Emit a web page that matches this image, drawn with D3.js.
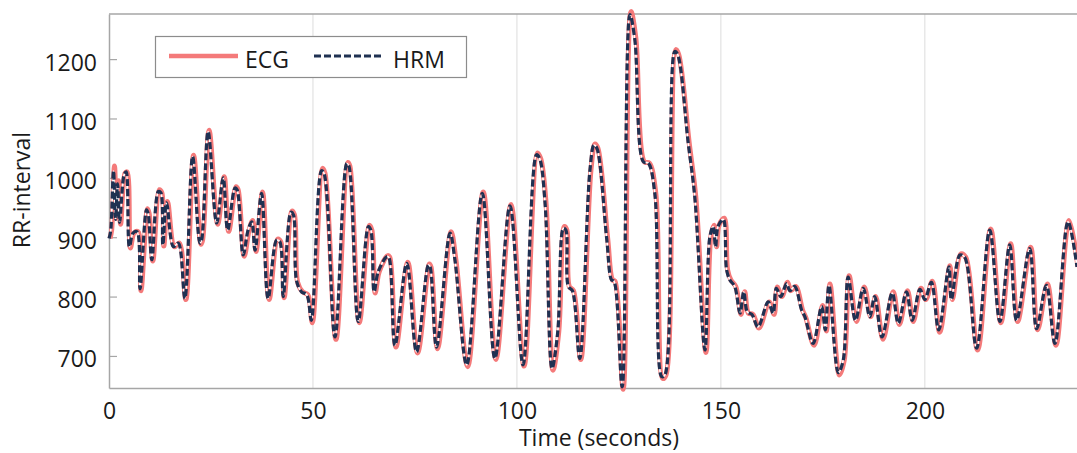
<!DOCTYPE html>
<html>
<head>
<meta charset="utf-8">
<script src="https://cdn.jsdelivr.net/npm/d3@7"></script>
<style>
  body { margin: 0; background: #fff; }
  svg { display: block; font-family: "Open Sans", sans-serif; }
</style>
</head>
<body>
<svg width="1077" height="453"></svg>
<script>
// RR-interval samples (seconds, ms) at peaks / troughs
const times = [
  0, 0.4, 1.1, 1.6, 2.1, 2.6, 3.7, 4.2, 5.0, 5.9, 6.9, 7.6, 9.2, 9.6, 10.5, 12.1, 12.7, 13.2, 14.1, 15.8,
  17.0, 18.6, 20.5, 22.3, 22.7, 24.3, 26.4, 28.0, 29.1, 30.9, 31.4, 32.9, 34.1, 35.0, 35.8, 37.4, 39.0, 41.1, 41.9, 42.7,
  44.6, 45.2, 46.0, 47.2, 48.5, 49.6, 52.1, 52.7, 55.4, 58.3, 58.8, 61.1, 63.6, 64.2, 65.0, 66.0, 68.1, 68.6, 70.1, 73.0,
  75.4, 78.3, 78.7, 80.3, 83.6, 84.8, 87.7, 91.5, 94.6, 98.3, 101.5, 104.8, 105.6, 106.9, 108.6, 110.0, 111.4, 112.0, 112.6, 113.6,
  115.4, 117.9, 118.9, 119.6, 122.0, 123.2, 123.8, 125.8, 127.7, 128.9, 131.0, 132.2, 133.8, 135.5, 136.3, 138.7, 139.4, 142.0, 143.6, 146.1,
  147.3, 148.1, 148.7, 149.3, 150.6, 151.4, 152.2, 153.4, 154.7, 155.6, 156.5, 157.6, 159.1, 161.6, 162.8, 163.6, 164.7, 166.1, 166.9, 168.1,
  169.8, 170.6, 172.6, 174.7, 175.6, 176.5, 178.8, 180.0, 181.2, 183.0, 184.9, 186.5, 187.7, 189.5, 192.0, 193.5, 195.5, 196.9, 198.8, 200.0,
  201.6, 203.4, 205.9, 206.5, 208.6, 209.8, 212.7, 215.9, 218.4, 220.8, 222.5, 225.7, 227.4, 229.8, 231.9, 235.1, 237.3
];
const hrm = [
  898, 910, 1012, 930, 990, 925, 1005, 1010, 884, 907, 909, 813, 946, 940, 862, 977, 975, 887, 958, 884,
  890, 797, 1036, 890, 895, 1078, 924, 1000, 912, 983, 980, 870, 912, 926, 878, 974, 797, 895, 892, 800,
  942, 938, 826, 808, 803, 760, 1012, 1008, 732, 1024, 1020, 758, 918, 912, 808, 842, 867, 866, 718, 856,
  707, 853, 850, 715, 907, 862, 685, 974, 696, 953, 685, 1039, 1032, 957, 679, 740, 915, 912, 817, 810,
  696, 1013, 1055, 1050, 898, 828, 826, 648, 1275, 1233, 1027, 1025, 974, 665, 668, 1213, 1208, 1058, 968, 710,
  901, 918, 884, 918, 930, 845, 828, 817, 772, 808, 774, 770, 749, 791, 772, 814, 800, 822, 810, 817,
  777, 766, 721, 783, 744, 819, 672, 693, 833, 760, 814, 766, 800, 732, 806, 755, 808, 760, 812, 795,
  824, 744, 850, 795, 870, 866, 713, 912, 758, 887, 760, 881, 746, 819, 721, 926, 850
];
const ecg = [
  898, 912, 1020, 932, 995, 922, 1008, 1010, 882, 907, 909, 810, 948, 940, 860, 980, 975, 885, 960, 884,
  890, 795, 1038, 888, 895, 1080, 922, 1002, 910, 985, 980, 868, 912, 928, 876, 976, 795, 897, 892, 798,
  944, 938, 824, 808, 803, 756, 1016, 1008, 728, 1026, 1020, 756, 920, 912, 806, 842, 869, 866, 715, 858,
  705, 855, 850, 712, 909, 862, 682, 976, 694, 955, 683, 1042, 1032, 957, 676, 740, 918, 912, 817, 810,
  694, 1013, 1057, 1050, 898, 828, 826, 644, 1280, 1236, 1027, 1025, 974, 662, 668, 1216, 1208, 1058, 968, 706,
  901, 920, 884, 920, 932, 845, 828, 817, 770, 808, 772, 770, 747, 791, 770, 816, 800, 824, 810, 817,
  777, 764, 718, 785, 742, 821, 668, 693, 835, 758, 816, 766, 800, 728, 808, 753, 810, 758, 814, 795,
  826, 740, 852, 795, 872, 866, 710, 914, 756, 889, 758, 883, 744, 821, 718, 928, 850
];
const xTicks = [0, 50, 100, 150, 200];
const yTicks = [700, 800, 900, 1000, 1100, 1200];
const seriesNames = ["ECG", "HRM"];

const red = "#f47a7a";
const navy = "#1f3152";
const frame = "#a6a6a6";

const svg = d3.select("svg");
const plotLeft = 109, plotRight = 1077, plotTop = 14, plotBottom = 388;

const x = d3.scaleLinear().domain([0, 237.3]).range([plotLeft, plotRight]);
const y = d3.scaleLinear().domain([646, 1276]).range([plotBottom, plotTop]);

// vertical grid
svg.append("g")
  .selectAll("line")
  .data(xTicks.slice(1))
  .enter()
  .append("line")
  .attr("x1", d => x(d)).attr("x2", d => x(d))
  .attr("y1", plotTop).attr("y2", plotBottom)
  .attr("stroke", "#dcdcdc")
  .attr("stroke-width", 1);

// top border
svg.append("line")
  .attr("x1", plotLeft).attr("x2", plotRight)
  .attr("y1", plotTop).attr("y2", plotTop)
  .attr("stroke", frame).attr("stroke-width", 1.5);

const yAxis = svg.append("g")
  .attr("transform", `translate(${plotLeft},0)`)
  .call(d3.axisLeft(y).tickValues(yTicks).tickFormat(d3.format("d"))
    .tickSize(-8).tickSizeOuter(0).tickPadding(12));

const xAxis = svg.append("g")
  .attr("transform", `translate(0,${plotBottom})`)
  .call(d3.axisBottom(x).tickValues(xTicks).tickSize(0).tickPadding(15));

[yAxis, xAxis].forEach(g => {
  g.select(".domain").attr("stroke", frame).attr("stroke-width", 1.5);
  g.selectAll(".tick line").attr("stroke", frame).attr("stroke-width", 1.2);
  g.selectAll(".tick text")
    .attr("fill", "#1a1a1a")
    .style("font-size", "23px")
    .style("font-family", "'Open Sans', sans-serif");
});
yAxis.selectAll(".tick text").attr("dy", "0.48em");

// axis titles
svg.append("text")
  .attr("x", 599).attr("y", 446)
  .attr("text-anchor", "middle")
  .attr("fill", "#1a1a1a")
  .style("font-size", "23px")
  .text("Time (seconds)");

svg.append("text")
  .attr("transform", "translate(30,190) rotate(-90)")
  .attr("text-anchor", "middle")
  .attr("fill", "#1a1a1a")
  .style("font-size", "23px")
  .text("RR-interval");

// lines
const line = vals => d3.line()
  .x((d, i) => x(times[i]))
  .y(d => y(d))
  .curve(d3.curveCatmullRom.alpha(0.5))(vals);

const plot = svg.append("g");

plot.append("path")
  .attr("d", line(ecg))
  .attr("transform", "translate(1,0)")
  .attr("fill", "none")
  .attr("stroke", red)
  .attr("stroke-width", 5)
  .attr("stroke-linejoin", "round");

plot.append("path")
  .attr("d", line(hrm))
  .attr("fill", "none")
  .attr("stroke", "#ffffff")
  .attr("stroke-width", 1.6)
  .attr("stroke-linejoin", "round");

plot.append("path")
  .attr("d", line(hrm))
  .attr("fill", "none")
  .attr("stroke", navy)
  .attr("stroke-width", 3.2)
  .attr("stroke-dasharray", "7,3")
  .attr("stroke-linejoin", "round");

// legend
const legend = svg.append("g");
legend.append("rect")
  .attr("x", 155.5).attr("y", 36.5)
  .attr("width", 311).attr("height", 41)
  .attr("fill", "#fff")
  .attr("stroke", "#8c8c8c")
  .attr("stroke-width", 1.2);

const legendItems = [
  { name: seriesNames[0], x1: 169, tx: 245, color: red, width: 4.5, dash: null },
  { name: seriesNames[1], x1: 314, tx: 393, color: navy, width: 3, dash: "7,3" }
];

legendItems.forEach(d => {
  legend.append("line")
    .attr("x1", d.x1).attr("x2", d.x1 + 69)
    .attr("y1", 56).attr("y2", 56)
    .attr("stroke", d.color)
    .attr("stroke-width", d.width)
    .attr("stroke-dasharray", d.dash);
  legend.append("text")
    .attr("x", d.tx).attr("y", 68)
    .attr("fill", "#1a1a1a")
    .style("font-size", "23px")
    .text(d.name);
});
</script>
</body>
</html>
